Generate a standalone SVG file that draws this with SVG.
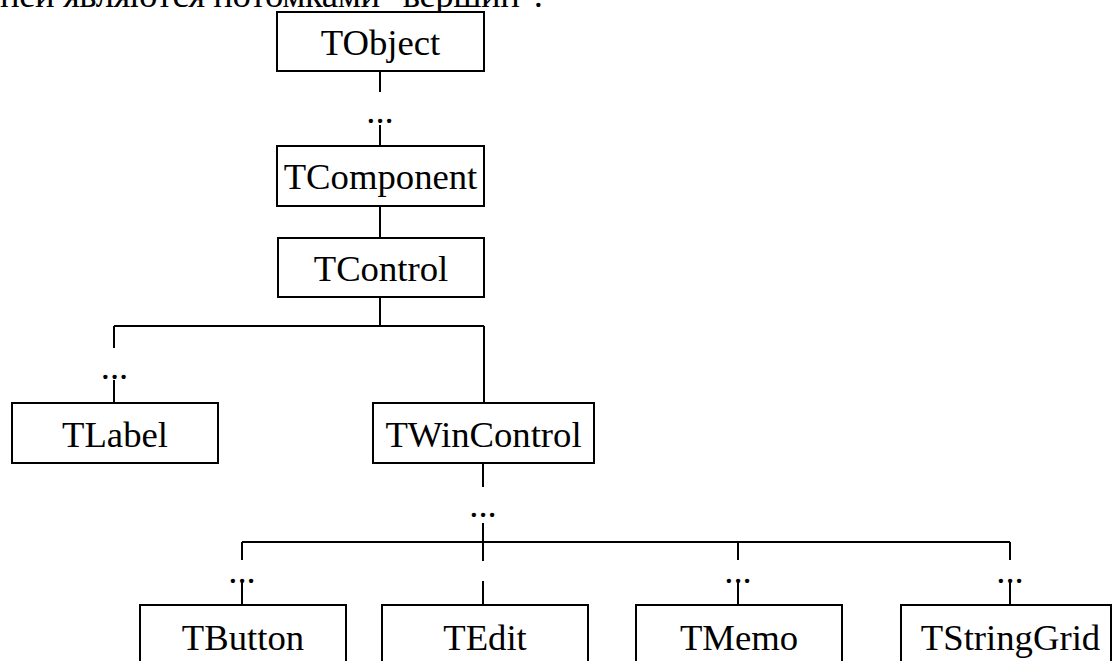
<svg xmlns="http://www.w3.org/2000/svg" width="1114" height="661" viewBox="0 0 1114 661">
<style>
  .box { fill: #fff; stroke: #000; stroke-width: 2; }
  .lbl { font-family: "Liberation Serif", "Times New Roman", serif; font-size: 36.7px; fill: #000; text-anchor: middle; }
  .dots { font-family: "Liberation Serif", "Times New Roman", serif; font-size: 36.7px; fill: #000; text-anchor: middle; }
  .cap { font-family: "Liberation Serif", "Times New Roman", serif; font-size: 36.7px; fill: #000; }
  .ln { fill: none; stroke: #000; stroke-width: 2; }
</style>
<rect x="0" y="0" width="1114" height="661" fill="#fff"/>
<text class="cap" x="0" y="7" textLength="543" lengthAdjust="spacing">ней являются потомками "вершин".</text>
<g id="connectors">
  <path class="ln" d="M380,71 V92 M380,125 V146"/>
  <path class="ln" d="M380,206 V238"/>
  <path class="ln" d="M380,297 V326 M114,326 H484 M114,326 V348 M114,380 V403 M484,326 V403"/>
  <path class="ln" d="M483,463 V487 M483,523 V561 M242,542 H1010"/>
  <path class="ln" d="M242,542 V560 M242,583 V605"/>
  <path class="ln" d="M483,581 V605"/>
  <path class="ln" d="M738,542 V560 M738,583 V605"/>
  <path class="ln" d="M1010,542 V560 M1010,583 V605"/>
  <g id="ellipses">
    <text class="dots" x="380" y="123">...</text>
    <text class="dots" x="114.5" y="379">...</text>
    <text class="dots" x="483" y="517">...</text>
    <text class="dots" x="242" y="583">...</text>
    <text class="dots" x="738" y="583">...</text>
    <text class="dots" x="1010" y="583">...</text>
  </g>
</g>
<g id="TObject">
  <rect class="box" x="277" y="12" width="207" height="59"/>
  <text class="lbl" x="380.5" y="55">TObject</text>
</g>
<g id="TComponent">
  <rect class="box" x="277" y="146" width="207" height="60"/>
  <text class="lbl" x="380.5" y="189">TComponent</text>
</g>
<g id="TControl">
  <rect class="box" x="278" y="238" width="206" height="59"/>
  <text class="lbl" x="381" y="281">TControl</text>
</g>
<g id="TLabel">
  <rect class="box" x="12" y="403" width="206" height="60"/>
  <text class="lbl" x="115" y="447">TLabel</text>
</g>
<g id="TWinControl">
  <rect class="box" x="373" y="403" width="221" height="60"/>
  <text class="lbl" x="483.5" y="447">TWinControl</text>
</g>
<g id="TButton">
  <rect class="box" x="140" y="605" width="206" height="70"/>
  <text class="lbl" x="243" y="650">TButton</text>
</g>
<g id="TEdit">
  <rect class="box" x="382" y="605" width="206" height="70"/>
  <text class="lbl" x="485" y="650">TEdit</text>
</g>
<g id="TMemo">
  <rect class="box" x="636" y="605" width="206" height="70"/>
  <text class="lbl" x="739" y="650">TMemo</text>
</g>
<g id="TStringGrid">
  <rect class="box" x="901" y="605" width="210" height="70"/>
  <text class="lbl" x="1010.5" y="650">TStringGrid</text>
</g>
</svg>
